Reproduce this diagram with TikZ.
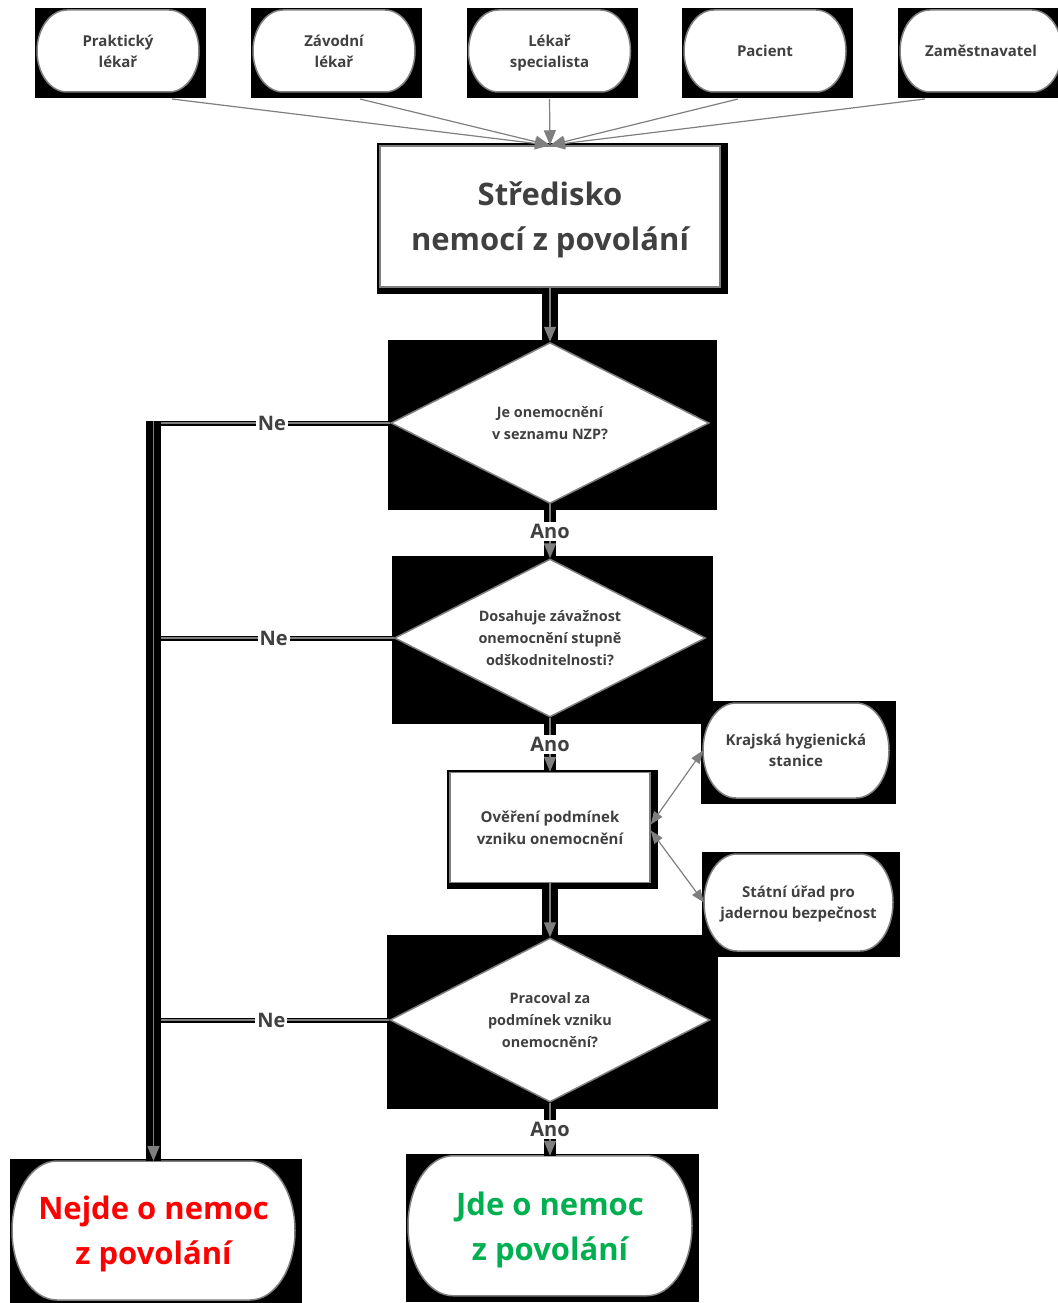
\documentclass[tikz,border=0pt]{standalone}
\usepackage{fontspec}
\setmainfont{Open Sans}
\usepackage{tikz}
\usetikzlibrary{shapes.geometric, arrows.meta, positioning, calc, backgrounds}
\definecolor{ink}{RGB}{64,64,64}
\definecolor{rim}{RGB}{127,127,127}
\definecolor{nzpred}{RGB}{255,0,0}
\definecolor{nzpgreen}{RGB}{0,176,80}
\tikzstyle{pill} = [rectangle, outer sep=0pt, inner sep=2pt, align=center, text depth=0pt]
\tikzstyle{source} = [pill, minimum width=162pt, minimum height=82pt, text=ink, font=\fontsize{15}{21}\selectfont\bfseries]
\tikzstyle{agency} = [source, minimum width=188pt, minimum height=96pt]
\tikzstyle{verdict} = [pill, minimum width=284pt, minimum height=140pt, font=\fontsize{31}{45}\selectfont\bfseries]
\tikzstyle{office} = [rectangle, fill=white, draw=rim, line width=1.5pt, align=center, text=ink, text depth=0pt]
\tikzstyle{decision} = [diamond, aspect=2, inner sep=0pt, fill=white, draw=rim, line width=1.5pt, align=center, text=ink, font=\fontsize{14.4}{22}\selectfont\bfseries]
\tikzstyle{answer} = [fill=white, inner sep=2pt, text=ink, font=\fontsize{20}{24}\selectfont\bfseries]
\tikzstyle{feed} = [line width=1.2pt, draw=rim, -{Triangle[length=15pt,width=12pt]}]
\tikzstyle{branch} = [line width=1.2pt, draw=rim, preaction={draw=black, line width=5pt}]
\tikzstyle{ask} = [line width=1.2pt, draw=rim, {Triangle[length=13pt,width=10pt]}-{Triangle[length=13pt,width=10pt]}]
\tikzset{
	flow/.style = {line width=1.5pt, draw=rim, -{Triangle[length=15pt,width=12pt]},
		preaction={-, draw=black, line width=#1}},
	flow/.default = 16pt
}

\begin{document}
\begin{tikzpicture}[x=1pt, y=-1pt, node distance=54pt]
\useasboundingbox (0,0) rectangle (1057,1303);
%----------------------------------------------------------------------------
% Reporting sources
\node (prak) [source] at (118,51) {Praktický\\lékař};
\node (zav) [source] at (334,51) {Závodní\\lékař};
\node (lek) [source] at (549.5,51) {Lékař\\specialista};
\node (pac) [source] at (765,51) {Pacient};
\node (zam) [source] at (981,51) {Zaměstnavatel};

% centre and decision chain
\node (sted) [office, minimum width=340pt, minimum height=141pt, font=\fontsize{31}{45}\selectfont\bfseries] at (550,216.5) {Středisko\\nemocí z povolání};
\node (d1) [decision, below=of sted, minimum width=318pt, minimum height=161pt] {Je onemocnění\\v seznamu NZP?};
\node (d2) [decision, below=of d1, minimum width=311pt, minimum height=158pt] {Dosahuje závažnost\\onemocnění stupně\\odškodnitelnosti?};
\node (over) [office, below=of d2, minimum width=200pt, minimum height=110pt, font=\fontsize{15}{22}\selectfont\bfseries] {Ověření podmínek\\vzniku onemocnění};
\node (d3) [decision, below=of over, minimum width=320pt, minimum height=164pt] {Pracoval za\\podmínek vzniku\\onemocnění?};
\node (jde) [verdict, below=53pt of d3, text=nzpgreen] {Jde o nemoc\\z povolání};
\node (nejde) [verdict, minimum width=283pt, minimum height=139pt, text=nzpred] at (153.5,1230.5) {Nejde o nemoc\\z povolání};

% consulted offices
\node (kraj) [agency, minimum width=186pt, minimum height=95pt] at (796,750.5) {Krajská hygienická\\stanice};
\node (stat) [agency, minimum width=189pt, minimum height=97pt] at (798.5,902.5) {Státní úřad pro\\jadernou bezpečnost};

% black backings and pill outlines
\begin{scope}[on background layer]
\foreach \s in {prak,zav,lek,pac,zam,sted,d1,d2,over,kraj,stat,d3,nejde,jde}
	\fill[black] ($(\s.west |- \s.north)+(-2,-2)$) rectangle ($(\s.east |- \s.south)+(7,6)$);
\foreach \s/\d in {prak/30,zav/30,lek/30,pac/30,zam/30,kraj/33,stat/33,nejde/45,jde/45}
	\filldraw[fill=white, draw=rim, line width=1.5pt]
		let \p1=(\s.north west), \p2=(\s.south east), \n1={(\y1-\y2)/2} in
		(\x1+\d pt,\y1) -- (\x2-\d pt,\y1)
		arc[start angle=90, end angle=-90, x radius=\d pt, y radius=\n1]
		-- (\x1+\d pt,\y2)
		arc[start angle=270, end angle=90, x radius=\d pt, y radius=\n1] -- cycle;
\end{scope}

%----------------------------------------------------------------------------
% Draw lines
\draw [feed] ($(prak.south)+(54,7)$) -- (sted.north);
\draw [feed] ($(zav.south)+(26,7)$) -- (sted.north);
\draw [feed] ($(lek.south)+(0,7)$) -- (sted.north);
\draw [feed] ($(pac.south)+(-27,7)$) -- (sted.north);
\draw [feed] ($(zam.south)+(-56,7)$) -- (sted.north);

\draw [flow] (sted) -- (d1);
\draw [flow=12pt] (d1) -- node[answer] {Ano} (d2);
\draw [flow=12pt] (d2) -- node[answer] {Ano} (over);
\draw [flow] (over) -- (d3);
\draw [flow=12pt] (d3) -- node[answer] {Ano} (jde);

\draw [ask] ([yshift=3pt]over.east) -- (kraj.west);
\draw [ask] ([yshift=-3pt]over.east) -- (stat.west);

%----------------------------------------------------------------------------
% Draw rejection lines
\coordinate (notop) at ($(nejde.north |- d1.west)+(0,-2.5)$);
\draw [branch] (d1.west) -- node[answer] {Ne} (nejde.north |- d1.west);
\draw [branch] (d2.west) -- node[answer] {Ne} (nejde.north |- d2.west);
\draw [branch] (d3.west) -- node[answer] {Ne} (nejde.north |- d3.west);
\draw [flow=15pt] (notop) -- (nejde.north);

\end{tikzpicture}
\end{document}
